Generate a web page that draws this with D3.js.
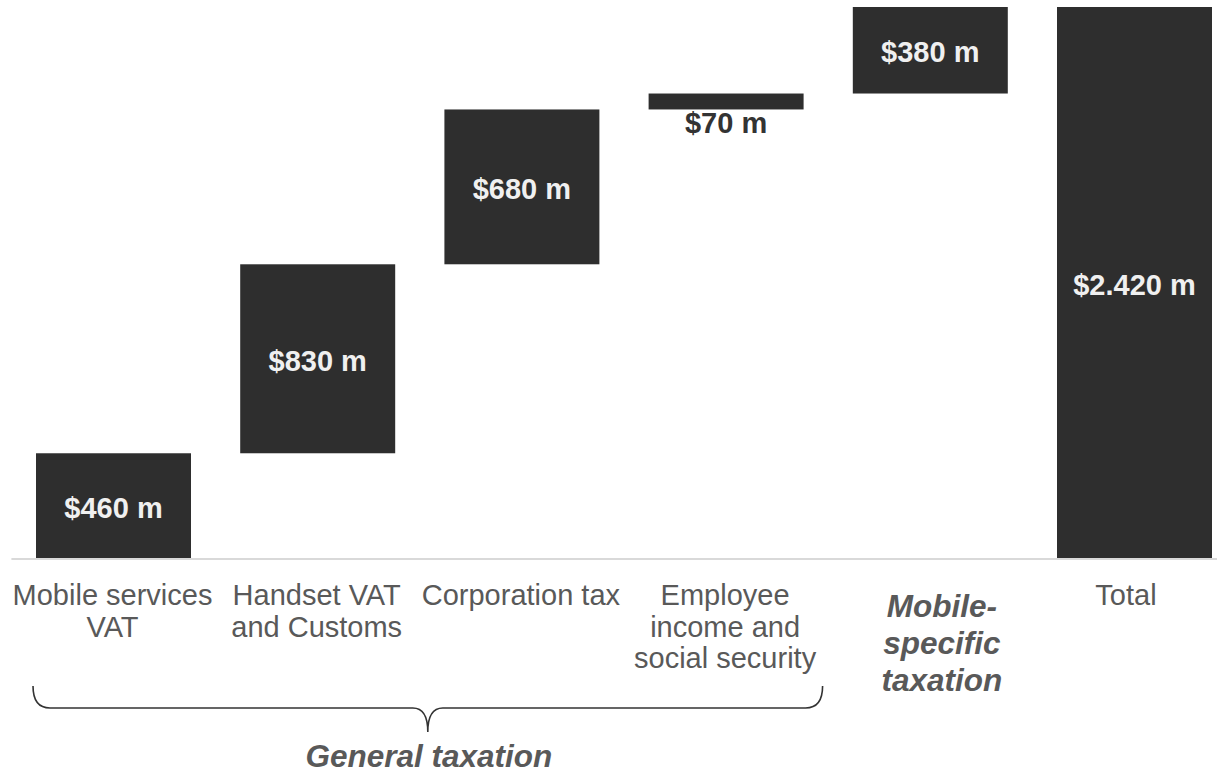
<!DOCTYPE html>
<html>
<head>
<meta charset="utf-8">
<script src="https://cdn.jsdelivr.net/npm/d3@7"></script>
<style>
  html, body { margin: 0; padding: 0; background: #ffffff; }
  svg { display: block; }
  text { font-family: "Liberation Sans", Arial, Helvetica, sans-serif; }
</style>
</head>
<body>
<svg id="chart" width="1217" height="773"></svg>
<script>
// Tax contributions of the mobile sector, in $ millions
const categories = [
  "Mobile services VAT",
  "Handset VAT and Customs",
  "Corporation tax",
  "Employee income and social security",
  "Mobile-specific taxation",
  "Total"
];
const categoryLines = [
  ["Mobile services", "VAT"],
  ["Handset VAT", "and Customs"],
  ["Corporation tax"],
  ["Employee", "income and", "social security"],
  ["Mobile-", "specific", "taxation"],
  ["Total"]
];
const values = [460, 830, 680, 70, 380, 2420];
const barKinds = ["step", "step", "step", "step", "step", "total"];
const groupLabel = "General taxation";
const groupMembers = ["Mobile services VAT", "Handset VAT and Customs", "Corporation tax", "Employee income and social security"];

// waterfall rows: each step starts where the previous one ended
let running = 0;
const rows = categories.map((c, i) => {
  let start, end;
  if (barKinds[i] === "total") { start = 0; end = values[i]; }
  else { start = running; end = running + values[i]; running = end; }
  return { category: c, value: values[i], start, end, lines: categoryLines[i], kind: barKinds[i] };
});

const locale = d3.formatLocale({ decimal: ",", thousands: ".", grouping: [3], currency: ["$", ""] });
const fmt = v => "$" + locale.format(",")(v) + " m";

const svg = d3.select("#chart");
const barColor = "#2e2e2e";
const labelGrey = "#595959";

const x = d3.scaleBand()
  .domain(categories)
  .range([11.4, 1236.6])
  .paddingInner(0.241)
  .paddingOuter(0.1205);

const y = d3.scaleLinear()
  .domain([0, d3.max(rows, d => d.end)])
  .range([558, 7]);

// baseline
svg.append("line")
  .attr("x1", x.range()[0]).attr("x2", 1217)
  .attr("y1", y(0) + 1).attr("y2", y(0) + 1)
  .attr("stroke", "#d9d9d9").attr("stroke-width", 2);

// bars
svg.append("g").selectAll("rect")
  .data(rows)
  .join("rect")
  .attr("x", d => x(d.category))
  .attr("width", x.bandwidth())
  .attr("y", d => y(d.end))
  .attr("height", d => y(d.start) - y(d.end))
  .attr("fill", barColor);

// value labels: inside the bar, or just below it when the bar is too thin
svg.append("g").selectAll("text")
  .data(rows)
  .join("text")
  .attr("x", d => x(d.category) + x.bandwidth() / 2)
  .attr("y", d => {
    const h = y(d.start) - y(d.end);
    return h < 40 ? y(d.start) + 24 : (y(d.start) + y(d.end)) / 2 + 12;
  })
  .attr("text-anchor", "middle")
  .attr("font-size", 29)
  .attr("font-weight", "bold")
  .attr("fill", d => (y(d.start) - y(d.end)) < 40 ? "#333333" : "#f0f0f0")
  .text(d => fmt(d.value));

// category labels
const nudge = { "Mobile-specific taxation": 12.5, "Total": -7.5 };
const catG = svg.append("g");
rows.forEach(d => {
  const isGroupHead = !groupMembers.includes(d.category) && d.kind !== "total";
  const cx = x(d.category) + x.bandwidth() / 2 + (nudge[d.category] || 0) - 1;
  const t = catG.append("text")
    .attr("x", cx)
    .attr("y", isGroupHead ? 617 : 605)
    .attr("text-anchor", "middle")
    .attr("font-size", isGroupHead ? 31.5 : 29)
    .attr("font-weight", isGroupHead ? "bold" : "normal")
    .attr("font-style", isGroupHead ? "italic" : "normal")
    .attr("fill", labelGrey);
  d.lines.forEach((ln, i) => {
    t.append("tspan")
      .attr("x", cx)
      .attr("dy", i === 0 ? 0 : (isGroupHead ? 37 : 31.5))
      .text(ln);
  });
});

// curly brace under the general taxation group
const bx0 = x(groupMembers[0]) - 3;
const bx1 = x(groupMembers[groupMembers.length - 1]) + x.bandwidth() + 19;
const bm = (bx0 + bx1) / 2;
const bTop = 686, bMid = 708, bTip = 732;
const brace = d3.path();
brace.moveTo(bx0, bTop);
brace.bezierCurveTo(bx0, bMid - 8, bx0 + 5, bMid, bx0 + 17, bMid);
brace.lineTo(bm - 15, bMid);
brace.bezierCurveTo(bm - 6, bMid, bm, bMid + 6, bm, bTip);
brace.bezierCurveTo(bm, bMid + 6, bm + 6, bMid, bm + 15, bMid);
brace.lineTo(bx1 - 17, bMid);
brace.bezierCurveTo(bx1 - 5, bMid, bx1, bMid - 8, bx1, bTop);
svg.append("path")
  .attr("d", brace.toString())
  .attr("fill", "none")
  .attr("stroke", "#333333")
  .attr("stroke-width", 1.6);

svg.append("text")
  .attr("x", bm + 1)
  .attr("y", 767)
  .attr("text-anchor", "middle")
  .attr("font-size", 31.5)
  .attr("font-weight", "bold")
  .attr("font-style", "italic")
  .attr("fill", labelGrey)
  .text(groupLabel);
</script>
</body>
</html>
